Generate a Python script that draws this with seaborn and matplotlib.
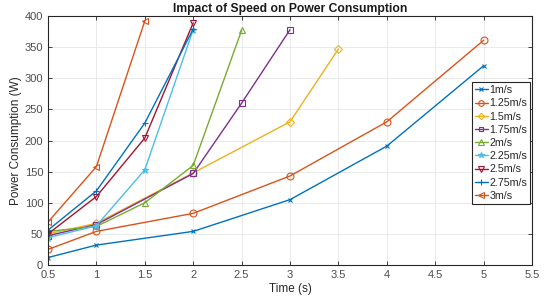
import numpy as np
import pandas as pd
import matplotlib
matplotlib.use("Agg")
import matplotlib.pyplot as plt
import seaborn as sns

# Power consumption (W) per speed
speeds = ["1m/s", "1.25m/s", "1.5m/s", "1.75m/s", "2m/s",
          "2.25m/s", "2.5m/s", "2.75m/s", "3m/s"]
times = {
    "1m/s": [0.5, 1, 2, 3, 4, 5],
    "1.25m/s": [0.5, 1, 2, 3, 4, 5],
    "1.5m/s": [0.5, 1, 2, 3, 3.5],
    "1.75m/s": [0.5, 1, 2, 2.5, 3],
    "2m/s": [0.5, 1, 1.5, 2, 2.5],
    "2.25m/s": [0.5, 1, 1.5, 2],
    "2.5m/s": [0.5, 1, 1.5, 2],
    "2.75m/s": [0.5, 1, 1.5, 2],
    "3m/s": [0.5, 1, 1.5],
}
power = {
    "1m/s": [12, 32, 54, 105, 191, 320],
    "1.25m/s": [25, 54, 83, 143, 230, 361],
    "1.5m/s": [50, 67, 148, 230, 347],
    "1.75m/s": [47, 65, 147, 260, 378],
    "2m/s": [54, 62, 100, 160, 377],
    "2.25m/s": [44, 63, 153, 378],
    "2.5m/s": [50, 110, 204, 389],
    "2.75m/s": [56, 119, 228, 379],
    "3m/s": [69, 158, 392],
}

# MATLAB default colour order and markers
colors = ["#0072BD", "#D95319", "#EDB120", "#7E2F8E", "#77AC30",
          "#4DBEEE", "#A2142F", "#0072BD", "#D95319"]
markers = ["x", "o", "D", "s", "^", "*", "v", "+", "<"]
msizes = [3.5, 5, 4, 4, 5, 5, 5, 5, 5]

rows = []
for s in speeds:
    for t, p in zip(times[s], power[s]):
        rows.append({"speed": s, "time": t, "power": p})
df = pd.DataFrame(rows)

sns.set_style("ticks")
plt.rcParams["font.family"] = ["Liberation Sans", "DejaVu Sans"]

fig = plt.figure(figsize=(5.48, 3.01), dpi=100)
ax = fig.add_axes([0.0876, 0.1196, 0.8832, 0.8272])

for i, s in enumerate(speeds):
    sub = df[df["speed"] == s]
    sns.lineplot(data=sub, x="time", y="power", ax=ax, color=colors[i],
                 marker=markers[i], markersize=msizes[i], linewidth=1,
                 markerfacecolor="none" if markers[i] not in ("x", "+", "*") else colors[i],
                 markeredgecolor=colors[i], markeredgewidth=0.8, label=s)

ax.set_xlim(0.5, 5.5)
ax.set_ylim(0, 400)
ax.set_xticks(np.arange(0.5, 5.51, 0.5))
ax.set_xticklabels(["0.5", "1", "1.5", "2", "2.5", "3", "3.5", "4", "4.5", "5", "5.5"])
ax.set_yticks(np.arange(0, 401, 50))
ax.grid(True, color="#e6e6e6", linewidth=0.6)
ax.set_axisbelow(True)
for sp in ax.spines.values():
    sp.set_visible(True)
    sp.set_color("#262626")
    sp.set_linewidth(0.8)
ax.tick_params(direction="in", length=3, colors="#262626", labelcolor="#4d4d4d",
               labelsize=8, top=True, right=True, width=0.6)
ax.set_xlabel("Time (s)", fontsize=8.5, color="#262626", labelpad=2)
ax.set_ylabel("Power Consumption (W)", fontsize=8.5, color="#262626", labelpad=2)
ax.set_title("Impact of Speed on Power Consumption", fontsize=8.7, fontweight="bold",
             color="#1a1a1a", pad=3)

leg = ax.legend(loc="upper right", bbox_to_anchor=(0.996, 0.733), fontsize=7.7,
                frameon=True, fancybox=False, borderpad=0.25, labelspacing=0.3,
                handlelength=1.2, handletextpad=0.15, borderaxespad=0, markerscale=0.8)
leg.get_frame().set_edgecolor("#262626")
leg.get_frame().set_linewidth(0.8)
leg.get_frame().set_alpha(1)

fig.savefig("out.png", dpi=100)
